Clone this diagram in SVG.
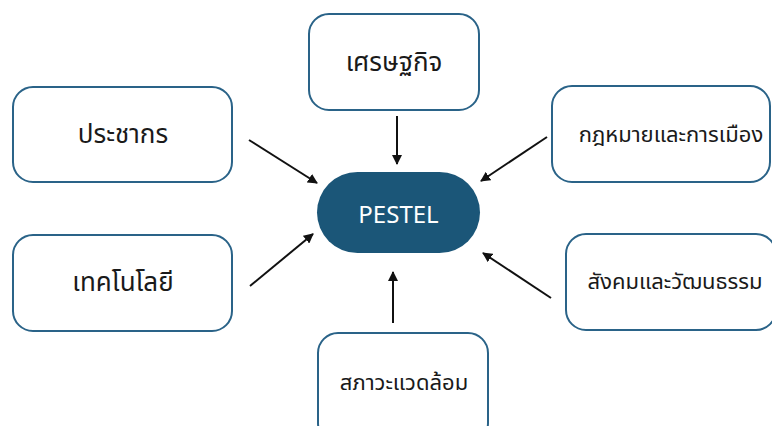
<svg xmlns="http://www.w3.org/2000/svg" width="772" height="426" viewBox="0 0 772 426">
  <defs>
    <marker id="arrow" viewBox="0 0 10 10" refX="9" refY="5" markerWidth="5" markerHeight="5" orient="auto-start-reverse">
      <path d="M0,0 L10,5 L0,10 z" fill="#111"/>
    </marker>
    <style>
      .box { fill: #fff; stroke: #2a6388; stroke-width: 2; }
      .hub { fill: #1b5678; }
      .lbl { font-family: "Noto Sans Thai", "Noto Sans Thai Looped", "Noto Sans", "DejaVu Sans", sans-serif; fill: #1a1a1a; text-anchor: middle; dominant-baseline: central; }
      .big { font-size: 26px; }
      .small { font-size: 22px; }
      .hubtxt { font-family: "Noto Sans", "Open Sans", sans-serif; font-size: 24px; fill: #fff; text-anchor: middle; dominant-baseline: central; }
      .edge { stroke: #111; stroke-width: 2; fill: none; marker-end: url(#arrow); }
    </style>
  </defs>

  <rect width="772" height="426" fill="#fff"/>

  <!-- connectors -->
  <g id="connectors">
    <line class="edge" x1="397" y1="116" x2="397" y2="164"/>
    <line class="edge" x1="249" y1="140" x2="317" y2="183"/>
    <line class="edge" x1="250" y1="286" x2="313" y2="234"/>
    <line class="edge" x1="547" y1="137" x2="481" y2="181"/>
    <line class="edge" x1="551" y1="298" x2="483" y2="253"/>
    <line class="edge" x1="393" y1="323" x2="393" y2="272"/>
  </g>

  <!-- central hub -->
  <g id="pestel">
    <rect class="hub" x="317" y="172" width="163" height="81" rx="40.5" ry="40.5"/>
    <text class="hubtxt" x="398.5" y="213">PESTEL</text>
  </g>

  <g id="economy">
    <rect class="box" x="309" y="14" width="170" height="96" rx="20" ry="20"/>
    <text class="lbl big" x="394" y="63">เศรษฐกิจ</text>
  </g>

  <g id="population">
    <rect class="box" x="13" y="87" width="219" height="95" rx="20" ry="20"/>
    <text class="lbl big" x="123" y="135">ประชากร</text>
  </g>

  <g id="technology">
    <rect class="box" x="13" y="235" width="219" height="96" rx="20" ry="20"/>
    <text class="lbl big" x="123" y="283">เทคโนโลยี</text>
  </g>

  <g id="law-politics">
    <rect class="box" x="552" y="86" width="218" height="96" rx="20" ry="20"/>
    <text class="lbl small" x="671" y="135">กฎหมายและการเมือง</text>
  </g>

  <g id="society-culture">
    <rect class="box" x="566" y="234" width="210" height="96" rx="20" ry="20"/>
    <text class="lbl small" x="675" y="282">สังคมและวัฒนธรรม</text>
  </g>

  <g id="environment">
    <rect class="box" x="318" y="333" width="170" height="110" rx="20" ry="20"/>
    <text class="lbl small" x="404" y="383">สภาวะแวดล้อม</text>
  </g>
</svg>
